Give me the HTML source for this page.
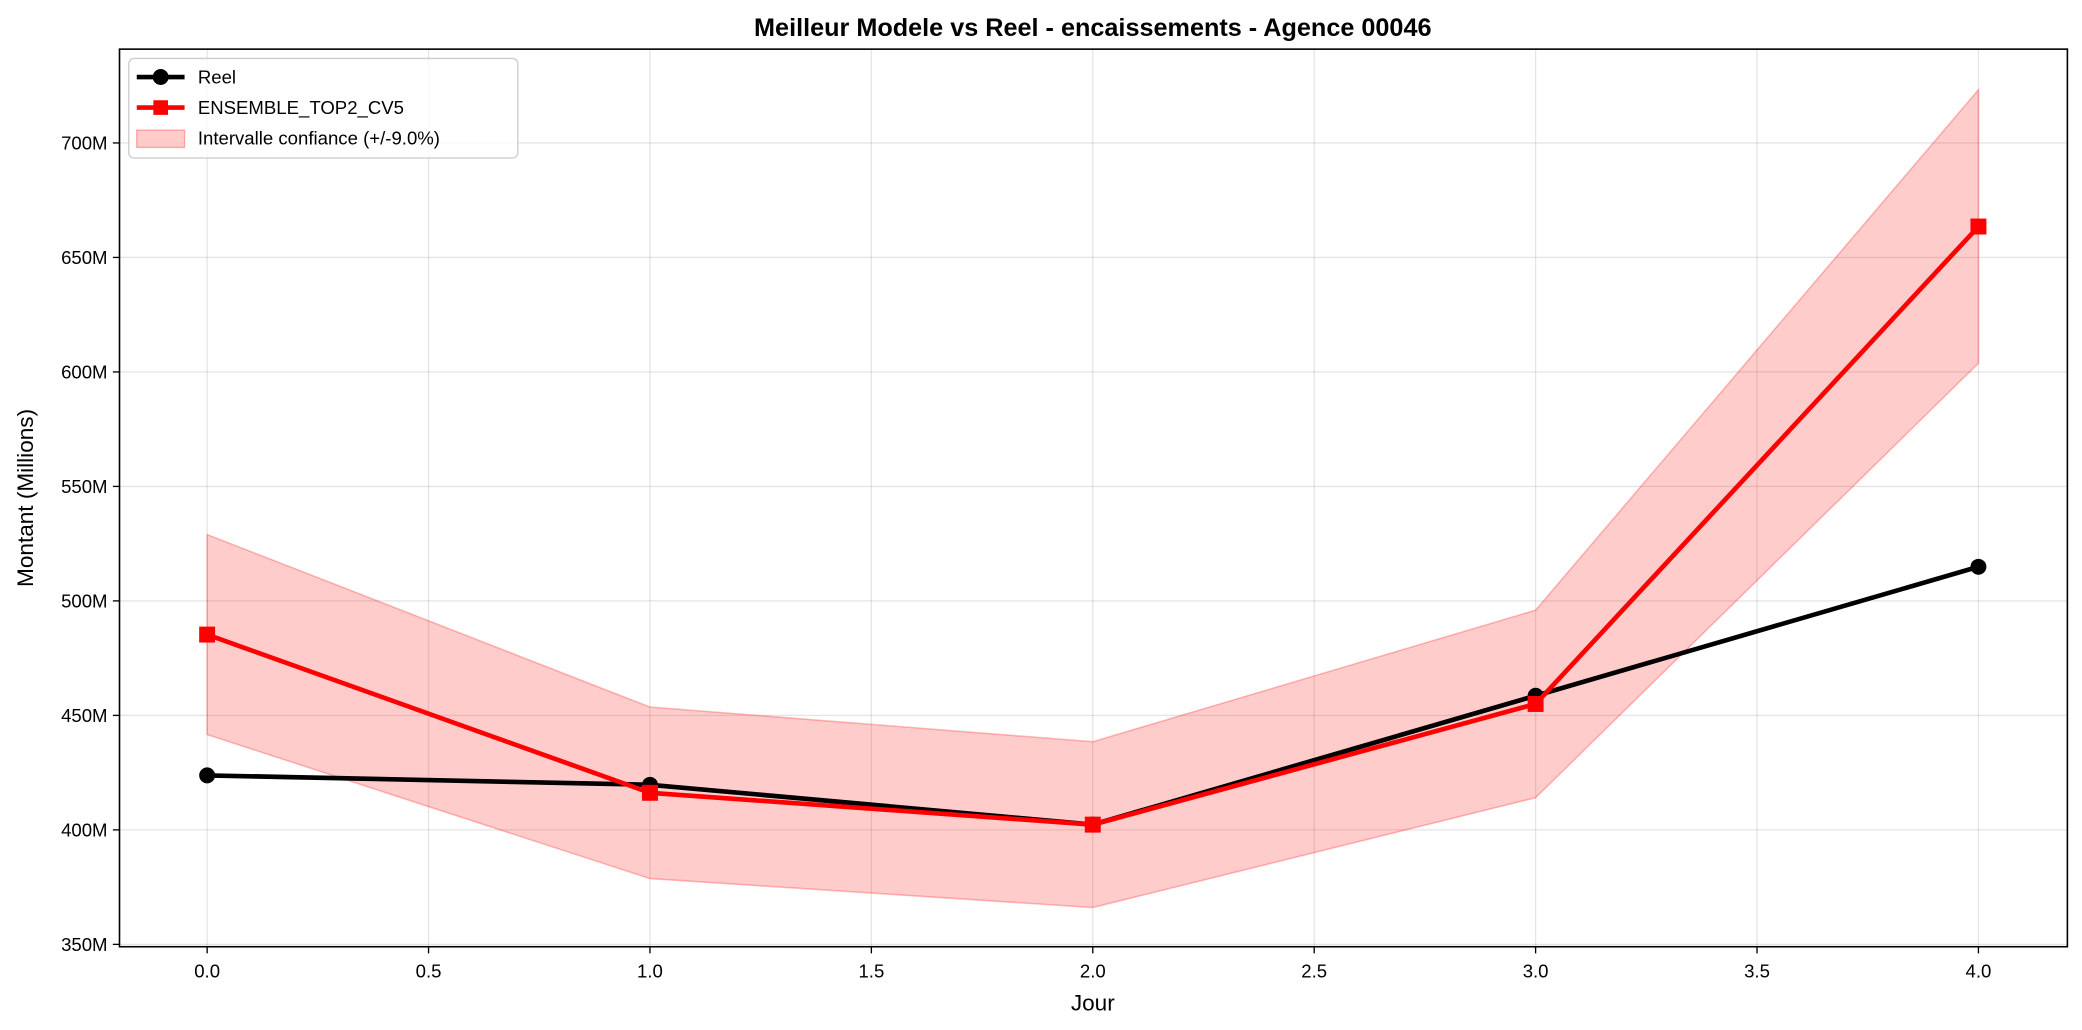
<!DOCTYPE html>
<html><head><meta charset="utf-8"><style>
body{margin:0;background:#fff;overflow:hidden;}
svg{display:block;}
svg text{font-family:"Liberation Sans","DejaVu Sans",sans-serif;}
</style></head><body>
<svg id="chart" width="2082" height="1030" viewBox="0 0 1568 775.7" xmlns="http://www.w3.org/2000/svg">
<rect width="1568" height="775.7" fill="#fff"/>
<text x="823" y="27" text-anchor="middle" font-size="19" font-weight="bold">Meilleur Modele vs Reel - encaissements - Agence 00046</text>
<g id="grid"></g>
<g id="band"></g>
<g id="series"></g>
<rect x="90" y="37" width="1467" height="676" fill="none" stroke="#000" stroke-width="1.2"/>
<g id="axes"></g>
<text x="823" y="761" text-anchor="middle" font-size="17">Jour</text>
<text transform="translate(25,375) rotate(-90)" text-anchor="middle" font-size="17">Montant (Millions)</text>
<g>
<rect x="97" y="44" width="293" height="75" rx="4" fill="#fff" fill-opacity="0.8" stroke="#ccc"/>
<g>
<line x1="103" y1="58" x2="139" y2="58" stroke="#000" stroke-width="3.5"/><circle cx="121" cy="58" r="6" fill="#000"/>
<text x="149" y="63" font-size="14">Reel</text></g>
<g>
<line x1="103" y1="81" x2="139" y2="81" stroke="#f00" stroke-width="3.5"/><rect x="115.5" y="75.5" width="11" height="11" fill="#f00"/>
<text x="149" y="86" font-size="14">ENSEMBLE_TOP2_CV5</text></g>
<g>
<rect x="103" y="98" width="36" height="13" fill="#f00" fill-opacity="0.2" stroke="#f00" stroke-opacity="0.3"/>
<text x="149" y="109" font-size="14">Intervalle confiance (+/-9.0%)</text></g>
</g>
</svg>
<script>
const days=[0,1,2,3,4];
const reel=[423.8,419.7,402.3,458.6,514.9];
const pred=[485.3,416.2,402.3,455.0,663.5];
const bandPct=0.09;
const xTicks=[0,0.5,1,1.5,2,2.5,3,3.5,4];
const yTicks=[350,400,450,500,550,600,650,700];
const NS="http://www.w3.org/2000/svg";
const X=v=>156+v*333.5;
const Y=v=>625-(v-400)*1.7245;
function mk(t,a,p){const e=document.createElementNS(NS,t);for(const k in a)e.setAttribute(k,a[k]);p.appendChild(e);return e;}
const grid=document.getElementById('grid'),axes=document.getElementById('axes');
xTicks.forEach(t=>{
 const gl=mk('line',{x1:X(t),x2:X(t),y1:37,y2:713,stroke:'#000','stroke-opacity':0.1},grid);
 
 
 mk('line',{x1:X(t),x2:X(t),y1:713,y2:718,stroke:'#000'},axes);
 const tx=mk('text',{x:X(t),y:736,'text-anchor':'middle','font-size':14},axes);tx.textContent=t.toFixed(1);
 
 
});
yTicks.forEach(t=>{
 const gl=mk('line',{x1:90,x2:1557,y1:Y(t),y2:Y(t),stroke:'#000','stroke-opacity':0.1},grid);
 
 
 mk('line',{x1:85,x2:90,y1:Y(t),y2:Y(t),stroke:'#000'},axes);
 const tx=mk('text',{x:81,y:Y(t)+5,'text-anchor':'end','font-size':14},axes);tx.textContent=t+'M';
 
 
});
const up=days.map((d,i)=>X(d)+','+Y(pred[i]*(1+bandPct)));
const lo=days.map((d,i)=>X(d)+','+Y(pred[i]*(1-bandPct))).reverse();
const band=mk('polygon',{points:up.concat(lo).join(' '),fill:'#f00','fill-opacity':0.2,stroke:'#f00','stroke-opacity':0.25,'stroke-width':1.2},document.getElementById('band'));


const s=document.getElementById('series');
const lr=mk('polyline',{points:days.map((d,i)=>X(d)+','+Y(reel[i])).join(' '),fill:'none',stroke:'#000','stroke-width':3.5},s);


days.forEach((d,i)=>{const c=mk('circle',{cx:X(d),cy:Y(reel[i]),r:6,fill:'#000'},s);
 
 });
const lp=mk('polyline',{points:days.map((d,i)=>X(d)+','+Y(pred[i])).join(' '),fill:'none',stroke:'#f00','stroke-width':3.5},s);


days.forEach((d,i)=>{const r=mk('rect',{x:X(d)-6,y:Y(pred[i])-6,width:12,height:12,fill:'#f00'},s);
 
 });
</script>
</body></html>
